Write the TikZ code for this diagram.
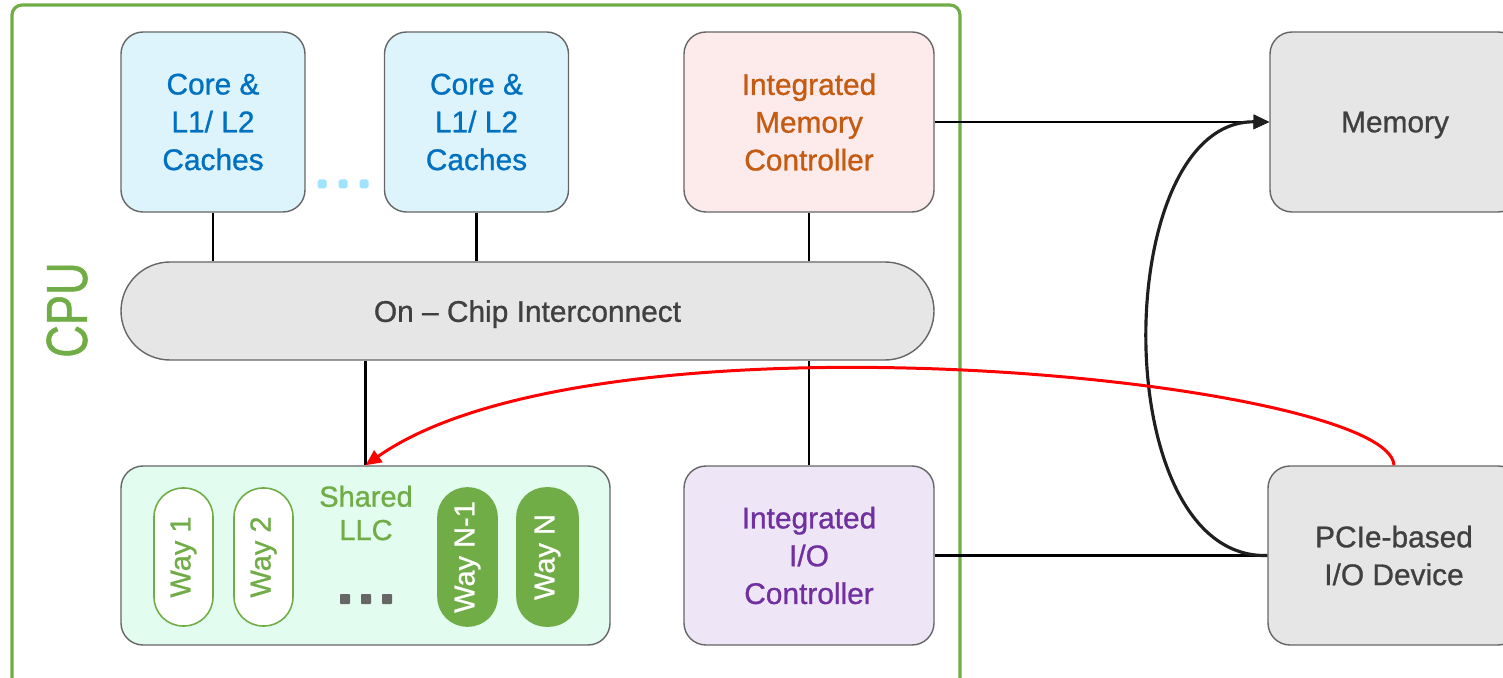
\documentclass[tikz,border=0pt]{standalone}
\usepackage{fontspec}
\setmainfont{Liberation Sans}[FakeBold=0.9]
\usepackage{tikz}
\usetikzlibrary{arrows.meta, positioning}
\definecolor{cpugreen}{HTML}{70AD47}
\definecolor{corefill}{HTML}{DDF4FD}
\definecolor{coretext}{HTML}{0070C0}
\definecolor{coredots}{HTML}{9FE3FF}
\definecolor{imcfill}{HTML}{FDEBEB}
\definecolor{imctext}{HTML}{C55A11}
\definecolor{iiofill}{HTML}{EEE6F6}
\definecolor{iiotext}{HTML}{7030A0}
\definecolor{llcfill}{HTML}{E2FCEF}
\definecolor{greyfill}{HTML}{E6E6E6}
\definecolor{greytext}{HTML}{404040}
\definecolor{boxline}{HTML}{666666}

\begin{document}
\begin{tikzpicture}[x=0.02cm, y=-0.02cm,
  blk/.style={draw=boxline, line width=0.8pt, rounded corners=22*0.02cm, align=center,
    inner sep=0pt, font=\fontsize{17}{21.5}\selectfont},
  coreblk/.style={blk, fill=corefill, text=coretext, minimum width=184*0.02cm, minimum height=180*0.02cm},
  wayblk/.style={draw=cpugreen, line width=0.9pt, rounded corners=29*0.02cm, rotate=90,
    minimum width=138*0.02cm, minimum height=59*0.02cm, inner sep=0pt,
    font=\fontsize{16.5}{19}\selectfont},
  link/.style={black, line width=1.2pt},
  tip/.style={-{Triangle[length=9pt, width=8pt]}}]
  \clip (0,0) rectangle (1503,678);
  \useasboundingbox (0,0) rectangle (1503,678);

  % CPU package
  \draw[cpugreen, line width=1.8pt, rounded corners=10*0.02cm] (12,5) rectangle (960,700);
  \node[rotate=90, text=cpugreen, font=\fontsize{33}{36}\selectfont] (cpu) at (67,310) {\scalebox{0.78}[1]{CPU}};

  % Cores
  \node[coreblk] (core1) at (213,122) {Core \&\\L1/ L2\\Caches};
  \node[coreblk] (core2) at (476.5,122) {Core \&\\L1/ L2\\Caches};
  \foreach \dx in {322,343,364}
    \fill[coredots, rounded corners=1pt] (\dx-4.5,179.5) rectangle (\dx+4.5,188.5);

  % Memory controller
  \node[blk, fill=imcfill, text=imctext, minimum width=250*0.02cm, minimum height=180*0.02cm]
    (imc) at (809,122) {Integrated\\Memory\\Controller};

  % Interconnect
  \node[blk, fill=greyfill, text=greytext, rounded corners=49*0.02cm, text depth=0pt,
    minimum width=813*0.02cm, minimum height=98*0.02cm] (noc) at (527.5,311) {On -- Chip Interconnect};

  % Shared LLC
  \node[blk, fill=llcfill, minimum width=489*0.02cm, minimum height=179*0.02cm] (llc) at (365.5,555.5) {};
  \node[text=cpugreen, align=center, font=\fontsize{16.5}{19}\selectfont] (llclabel) at (366,513) {Shared\\LLC};
  \node[wayblk, fill=white, text=cpugreen] (way1) at (183.5,557) {Way 1};
  \node[wayblk, fill=white, text=cpugreen] (way2) at (263.5,557) {Way 2};
  \node[wayblk, fill=cpugreen, text=white] (wayn1) at (467.5,557) {Way N-1};
  \node[wayblk, fill=cpugreen, text=white, minimum height=61*0.02cm] (wayn) at (547.5,557) {Way N};
  \foreach \dx in {345,366,387}
    \fill[boxline, rounded corners=0.5pt] (\dx-5,594) rectangle (\dx+5,604);

  % I/O controller
  \node[blk, fill=iiofill, text=iiotext, minimum width=250*0.02cm, minimum height=179*0.02cm]
    (iio) at (809,555.5) {Integrated\\I/O\\Controller};

  % Off-chip devices
  \node[blk, fill=greyfill, text=greytext, minimum width=250*0.02cm, minimum height=180*0.02cm,
    text depth=0pt] (mem) at (1395,122) {Memory};
  \node[blk, fill=greyfill, text=greytext, minimum width=252*0.02cm, minimum height=179*0.02cm]
    (pcie) at (1394,555.5) {PCIe-based\\I/O Device};

  % Links
  \draw[link] (core1.south) -- (core1.south |- noc.north);
  \draw[link] (core2.south) -- (core2.south |- noc.north);
  \draw[link] (imc.south) -- (imc.south |- noc.north);
  \draw[link] (noc.south -| llc.north) -- (llc.north);
  \draw[link] (noc.south -| iio.north) -- (iio.north);
  \draw[link, tip] (imc.east) -- (mem.west);
  \draw[link] (iio.east) -- (pcie.west);
  \draw[line width=1.8pt, black!88, tip] (pcie.west) .. controls (1105,560) and (1110,120) .. (mem.west);
  \draw[line width=1.7pt, red, tip] (pcie.north) .. controls (1390,380) and (600,300) .. (llc.north);
\end{tikzpicture}
\end{document}
